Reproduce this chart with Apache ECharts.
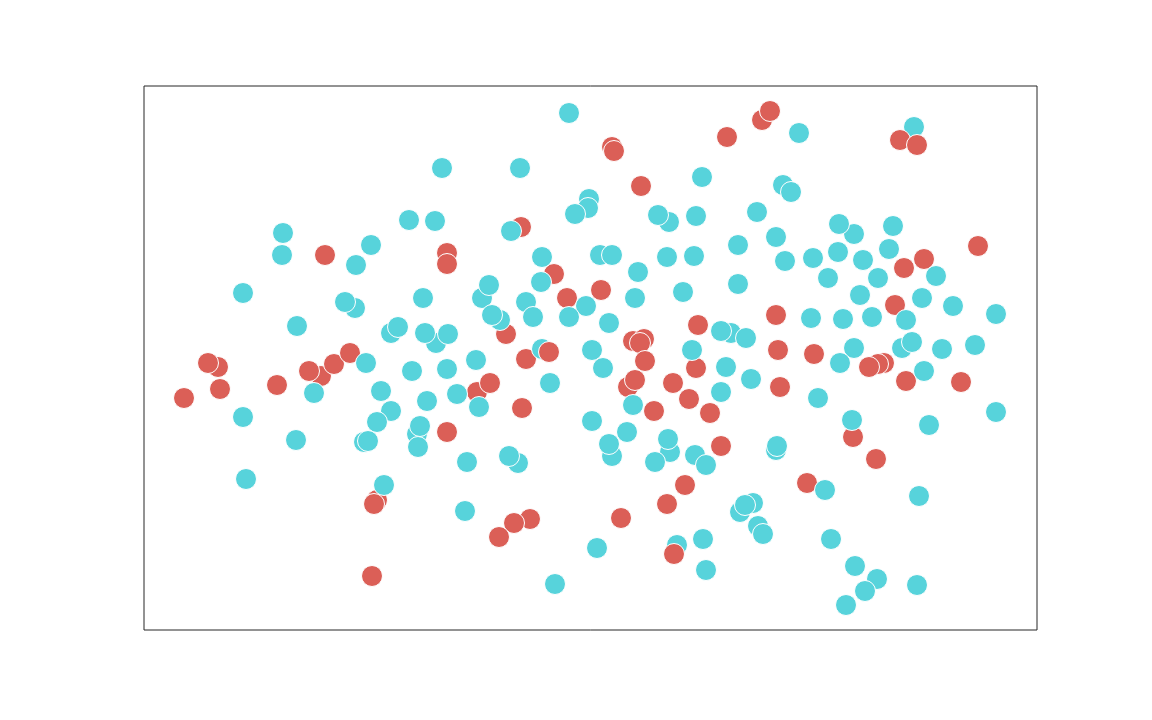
<!DOCTYPE html>
<html>
<head>
<meta charset="utf-8">
<script src="https://cdn.jsdelivr.net/npm/echarts@6/dist/echarts.min.js"></script>
<style>html,body{margin:0;padding:0;background:#fff;}#chart{width:1152px;height:720px;}</style>
</head>
<body>
<div id="chart"></div>
<script>
// Values (arbitrary units, x: 0..893, y: 0..544)
const xRange = [0, 893];
const yRange = [0, 544];

const redPoints = [
  [40,232],[74,263],[64,267],[76,241],[133,245],[177,254],[165,259],[190,266],[206,277],
  [181,375],[303,377],[303,366],[377,403],[410,356],[423,332],[457,340],[468,483],[470,479],
  [497,444],[583,493],[618,510],[626,519],[780,371],[760,362],[834,384],
  [751,325],[632,315],[634,280],[670,276],[740,267],[734,266],[725,263],[762,249],[817,248],
  [636,243],[709,193],[732,171],[663,147],[362,296],[382,271],[333,238],[346,247],
  [378,222],[303,198],[489,289],[500,291],[496,287],[501,269],[484,243],[491,250],[529,247],
  [552,262],[554,305],[545,231],[510,219],[566,217],[577,184],[541,145],[523,126],[477,112],
  [386,111],[370,107],[355,93],[233,130],[228,54]
];

const cyanPoints = [
  [298,462],[265,410],[291,409],[139,397],[138,375],[227,385],[212,365],[99,337],[211,322],
  [201,328],[279,332],[153,304],[247,297],[254,303],[292,287],[281,297],[304,296],[222,267],
  [268,259],[303,261],[170,237],[237,239],[283,229],[247,219],[233,208],[99,213],[152,190],
  [220,188],[224,189],[273,196],[274,183],[276,204],[102,151],[240,145],[425,517],[376,462],
  [367,399],[445,431],[444,422],[431,416],[525,408],[514,415],[552,414],[558,453],[398,373],
  [397,348],[456,375],[468,375],[523,373],[550,374],[594,385],[494,358],[594,346],[338,332],
  [345,345],[382,328],[389,313],[356,310],[348,315],[491,332],[539,338],[442,324],[425,313],
  [465,307],[587,297],[577,299],[602,292],[398,281],[448,280],[548,280],[332,270],[459,262],
  [582,263],[313,236],[335,223],[406,247],[489,225],[448,209],[483,198],[468,174],[465,186],
  [526,178],[524,191],[511,168],[551,175],[562,165],[577,238],[607,251],[323,168],[374,167],
  [365,174],[321,119],[453,82],[533,85],[559,91],[562,60],[411,46],[655,497],[770,503],
  [639,445],[647,438],[613,418],[710,396],[695,406],[749,404],[632,393],[641,369],[669,372],
  [694,378],[719,370],[745,381],[684,352],[734,352],[792,354],[716,335],[778,332],[809,324],
  [852,316],[667,312],[699,311],[728,313],[762,310],[758,282],[768,288],[798,281],[831,285],
  [710,282],[696,267],[674,232],[780,259],[852,218],[785,205],[708,210],[632,180],[633,184],
  [681,140],[775,134],[609,127],[596,118],[601,125],[614,104],[619,96],[687,91],[711,64],
  [733,51],[721,39],[702,25],[773,45]
];

// a few red points that sit on top of cyan ones in the picture
const redTopPoints = [[405,278],[530,76],[230,126],[756,490],[773,485]];

const colors = { red: '#db5f57', cyan: '#57d3db' };

const chart = echarts.init(document.getElementById('chart'), null, { renderer: 'canvas' });
const markerStyle = (c) => ({ color: c, borderColor: '#ffffff', borderWidth: 1, opacity: 1 });
chart.setOption({
  animation: false,
  backgroundColor: '#ffffff',
  grid: { left: 144, top: 86, width: 893, height: 544, show: true, borderColor: '#262626', borderWidth: 1, backgroundColor: 'transparent' },
  xAxis: { type: 'value', min: xRange[0], max: xRange[1], show: false },
  yAxis: { type: 'value', min: yRange[0], max: yRange[1], show: false },
  series: [
    { type: 'scatter', name: 'red', data: redPoints, symbolSize: 21, itemStyle: markerStyle(colors.red), z: 2, emphasis: { disabled: true } },
    { type: 'scatter', name: 'cyan', data: cyanPoints, symbolSize: 21, itemStyle: markerStyle(colors.cyan), z: 3, emphasis: { disabled: true } },
    { type: 'scatter', name: 'red-top', data: redTopPoints, symbolSize: 21, itemStyle: markerStyle(colors.red), z: 4, emphasis: { disabled: true } }
  ]
});
</script>
</body>
</html>
